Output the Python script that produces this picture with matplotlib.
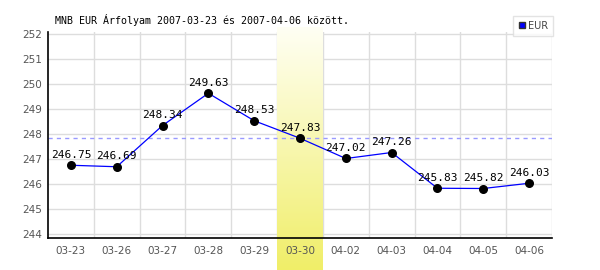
import matplotlib
matplotlib.use("Agg")
from matplotlib import pyplot as plt
from matplotlib.transforms import blended_transform_factory
from matplotlib.colors import LinearSegmentedColormap
from matplotlib.lines import Line2D
import numpy as np

# chart data
dates = ["03-23", "03-26", "03-27", "03-28", "03-29", "03-30",
         "04-02", "04-03", "04-04", "04-05", "04-06"]
eur = [246.75, 246.69, 248.34, 249.63, 248.53, 247.83,
       247.02, 247.26, 245.83, 245.82, 246.03]
highlight = 5  # index of highlighted day
yticks = [244, 245, 246, 247, 248, 249, 250, 251, 252]
title = "MNB EUR Árfolyam 2007-03-23 és 2007-04-06 között."

fig = plt.figure(figsize=(6, 2.7), dpi=100)
ax = fig.add_axes([48/600, 32/270, 504/600, 206/270])

x = np.arange(len(dates))

ax.set_xticks(x)
ax.set_xticklabels(dates)
ax.set_yticks(yticks)

# grid drawn by hand so the band can sit on top of it
for g in np.arange(len(dates)) + 0.5:
    ax.axvline(g, color="#dddddd", linewidth=1, zorder=1)
for g in yticks:
    ax.axhline(g, color="#dddddd", linewidth=1, zorder=1)

# highlight band (gradient, reaching below the axis)
grad = np.linspace(0, 1, 256).reshape(-1, 1)
cmap = LinearSegmentedColormap.from_list("hl", ["#fffff4", "#f0ee68"])
im = ax.imshow(grad, cmap=cmap, aspect="auto", origin="upper",
               extent=(highlight - 0.5, highlight + 0.5, 0, (270 - 27) / 270),
               zorder=1.5, clip_on=False)
im.set_transform(blended_transform_factory(ax.transData, fig.transFigure))

# reference line at highlighted value
ax.axhline(eur[highlight], color="#9999ff", linestyle=(0, (3, 3)), linewidth=1, zorder=2)

ax.plot(x, eur, color="#0000ff", linewidth=0.9, zorder=3)
ax.scatter(x, eur, s=30, color="black", zorder=4)
for xi, v in zip(x, eur):
    ax.annotate("%.2f" % v, (xi, v), xytext=(0, 4), textcoords="offset points",
                ha="center", va="bottom", fontsize=8, family="DejaVu Sans Mono",
                color="black", zorder=5)

ax.set_xlim(-0.5, len(dates) - 0.5)
ax.set_ylim(243.84, 252.08)

ax.xaxis.set_zorder(2.2)
ax.yaxis.set_zorder(2.2)
for s in ["top", "right"]:
    ax.spines[s].set_visible(False)
for s in ["left", "bottom"]:
    ax.spines[s].set_color("black")
    ax.spines[s].set_linewidth(1.2)
    ax.spines[s].set_zorder(6)

ax.tick_params(which="both", length=0, colors="#555555", labelsize=7.5)
ax.tick_params(axis="x", pad=6)
ax.tick_params(axis="y", pad=4)

fig.text(55/600, 1 - 20/270, title, family="DejaVu Sans Mono", fontsize=7.2,
         va="center", ha="left", color="black")

handle = Line2D([], [], marker="s", linestyle="none", markerfacecolor="#0000ff",
                markeredgecolor="#333333", markersize=5)
leg = fig.legend([handle], ["EUR"], loc="upper right",
                 bbox_to_anchor=(553/600, 1 - 16/270), fontsize=7,
                 frameon=True, fancybox=False, handlelength=0.8,
                 handletextpad=0.2, borderpad=0.5, borderaxespad=0)
leg.get_frame().set_edgecolor("#dddddd")
leg.get_frame().set_linewidth(1)
for t in leg.get_texts():
    t.set_color("#444444")

fig.savefig("out.png", dpi=100)
